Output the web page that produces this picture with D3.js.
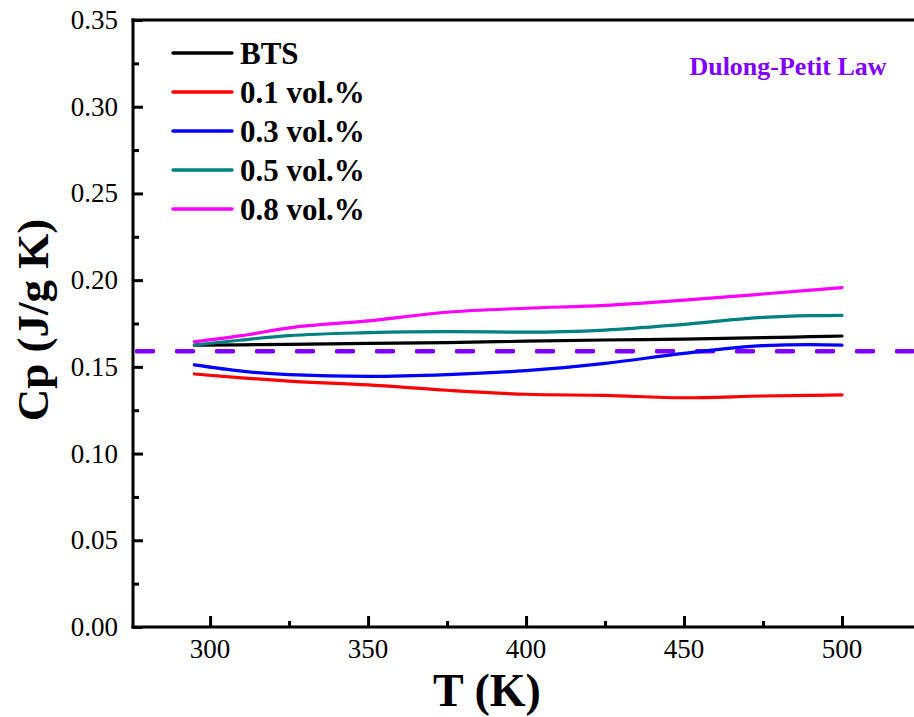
<!DOCTYPE html>
<html><head><meta charset="utf-8">
<script src="https://cdn.jsdelivr.net/npm/d3@7"></script>
<style>
html,body{margin:0;padding:0;background:#fff;}
svg{display:block;}
</style></head>
<body>
<svg id="chart" width="914" height="717"></svg>
<script>
// ---- data ----
const temps = [295, 310, 325, 350, 375, 400, 425, 450, 475, 490, 500];
const bts   = [0.1625, 0.1627, 0.1630, 0.1635, 0.1640, 0.1648, 0.1655, 0.1660, 0.1668, 0.1674, 0.1678];
const v01   = [0.1459, 0.1437, 0.1418, 0.1396, 0.1365, 0.1342, 0.1335, 0.1322, 0.1332, 0.1336, 0.1338];
const v03   = [0.1511, 0.1475, 0.1455, 0.1445, 0.1455, 0.1478, 0.1520, 0.1578, 0.1622, 0.1628, 0.1625];
const v05   = [0.1626, 0.1655, 0.1680, 0.1697, 0.1703, 0.1700, 0.1712, 0.1745, 0.1785, 0.1795, 0.1797];
const v08   = [0.1645, 0.1680, 0.1725, 0.1765, 0.1815, 0.1838, 0.1855, 0.1885, 0.1920, 0.1942, 0.1957];
const seriesNames = ["BTS", "0.1 vol.%", "0.3 vol.%", "0.5 vol.%", "0.8 vol.%"];
const seriesColors = ["#000000", "#ff0000", "#0000ff", "#008080", "#ff00ff"];
const dulongPetit = 0.159;
const xTicks = [300, 350, 400, 450, 500];
const xMinor = [325, 375, 425, 475];
const yTicks = [0.00, 0.05, 0.10, 0.15, 0.20, 0.25, 0.30, 0.35];
const yMinor = [0.025, 0.075, 0.125, 0.175, 0.225, 0.275, 0.325];

const seriesValues = [bts, v01, v03, v05, v08];
const FONT = "'Liberation Serif', 'Times New Roman', Times, serif";

const svg = d3.select("#chart").attr("font-family", FONT);
const L = 133, T = 20, B = 627;
const x = d3.scaleLinear().domain([275.6, 525]).range([L, 921]);
const y = d3.scaleLinear().domain([0, 0.35]).range([B, T]);

// frame lines
const g = svg.append("g");
g.append("line").attr("x1", L).attr("x2", L).attr("y1", T - 1.5).attr("y2", B + 1.5)
  .attr("stroke", "#000").attr("stroke-width", 3);
g.append("line").attr("x1", L - 1.5).attr("x2", 914).attr("y1", B).attr("y2", B)
  .attr("stroke", "#000").attr("stroke-width", 3);
g.append("line").attr("x1", L - 1.5).attr("x2", 914).attr("y1", T).attr("y2", T)
  .attr("stroke", "#000").attr("stroke-width", 3);

// bottom axis
const xAxis = d3.axisTop(x).tickValues(xTicks).tickSize(11).tickFormat("");
const xa = svg.append("g").attr("transform", `translate(0,${B})`).call(xAxis);
xa.select(".domain").remove();
xa.selectAll("line").attr("stroke-width", 3);
const xAxisMinor = d3.axisTop(x).tickValues(xMinor).tickSize(6).tickFormat("");
const xm = svg.append("g").attr("transform", `translate(0,${B})`).call(xAxisMinor);
xm.select(".domain").remove();
xm.selectAll("line").attr("stroke-width", 3);
svg.append("g").selectAll("text").data(xTicks).join("text")
  .attr("font-family", FONT)
  .attr("x", d => x(d)).attr("y", 658).attr("text-anchor", "middle")
  .attr("font-size", 27).text(d => d);

// left axis
const yAxis = d3.axisRight(y).tickValues(yTicks).tickSize(10).tickFormat("");
const ya = svg.append("g").attr("transform", `translate(${L},0)`).call(yAxis);
ya.select(".domain").remove();
ya.selectAll("line").attr("stroke-width", 3);
const yAxisMinor = d3.axisRight(y).tickValues(yMinor).tickSize(6).tickFormat("");
const ym = svg.append("g").attr("transform", `translate(${L},0)`).call(yAxisMinor);
ym.select(".domain").remove();
ym.selectAll("line").attr("stroke-width", 3);
svg.append("g").selectAll("text").data(yTicks).join("text")
  .attr("font-family", FONT)
  .attr("x", 118).attr("y", d => y(d) + 9).attr("text-anchor", "end")
  .attr("font-size", 27).text(d => d.toFixed(2));

// axis titles
svg.append("text").attr("font-family", FONT).attr("x", 487).attr("y", 706).attr("text-anchor", "middle")
  .attr("font-size", 46).attr("font-weight", "bold").text("T (K)");
svg.append("text").attr("font-family", FONT).attr("transform", "translate(48,320) rotate(-90)")
  .attr("text-anchor", "middle").attr("font-size", 45).attr("font-weight", "bold")
  .text("Cp (J/g K)");

// Dulong-Petit line
svg.append("line").attr("x1", x.range()[0] + 4).attr("x2", 914)
  .attr("y1", y(dulongPetit)).attr("y2", y(dulongPetit))
  .attr("stroke", "#7f00ff").attr("stroke-width", 4.5)
  .attr("stroke-dasharray", "16,24").attr("stroke-linecap", "round");
svg.append("text").attr("font-family", FONT).attr("x", 788).attr("y", 75).attr("text-anchor", "middle")
  .attr("font-size", 26).attr("font-weight", "bold").attr("fill", "#7f00ff")
  .text("Dulong-Petit Law");

// series lines
const line = d3.line().x(d => x(d[0])).y(d => y(d[1])).curve(d3.curveMonotoneX);
seriesValues.forEach((vals, i) => {
  svg.append("path").datum(temps.map((t, j) => [t, vals[j]]))
    .attr("d", line).attr("fill", "none").attr("stroke", seriesColors[i])
    .attr("stroke-width", 3.2).attr("stroke-linecap", "round");
});

// legend
const lg = svg.append("g");
seriesNames.forEach((name, i) => {
  const ly = 53 + i * 39;
  lg.append("line").attr("x1", 173).attr("x2", 232).attr("y1", ly).attr("y2", ly)
    .attr("stroke", seriesColors[i]).attr("stroke-width", 3.5).attr("stroke-linecap", "round");
  lg.append("text").attr("font-family", FONT).attr("x", 240).attr("y", ly + 11).attr("font-size", 31)
    .attr("font-weight", "bold").text(name);
});
</script>
</body></html>
